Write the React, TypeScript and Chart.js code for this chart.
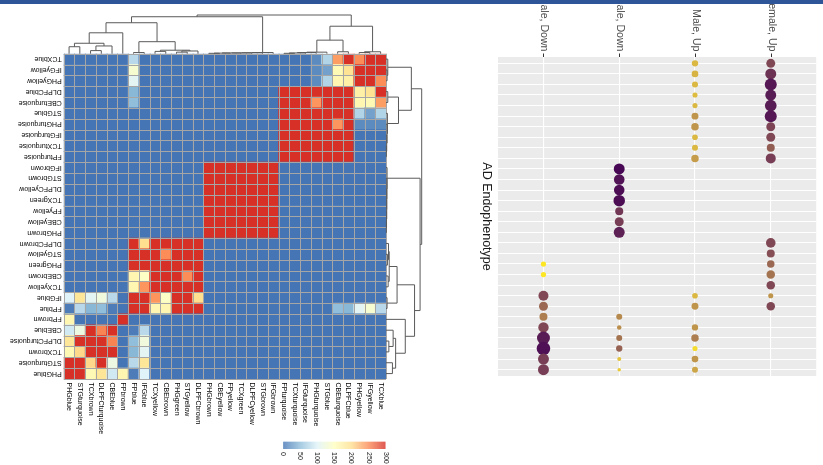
import React, { useEffect, useRef } from "react";
import { Chart, registerables } from "chart.js";

Chart.register(...registerables);

const W = 823;
const H = 465;

// Modules, in column order (left to right) = row order from bottom to top
const colModules = [
  "PHGblue", "STGturquoise", "TCXbrown", "DLPFCturquoise", "CBEblue", "FPbrown",
  "FPblue", "IFGblue", "TCXyellow", "CBEbrown", "PHGgreen", "STGyellow", "DLPFCbrown",
  "PHGbrown", "CBEyellow", "FPyellow", "TCXgreen", "DLPFCyellow", "STGbrown", "IFGbrown",
  "FPturquoise", "TCXturquoise", "IFGturquoise", "PHGturquoise", "STGblue", "CBEturquoise",
  "DLPFCblue", "PHGyellow", "IFGyellow", "TCXblue",
];

// Overlap values, rows as displayed from top (TCXblue) to bottom (PHGblue)
const overlapTopToBottom = [
  [0,0,0,0,0,0,75,0,0,0, 0,0,0,0,0,0,0,0,0,0, 0,0,0,15,70,240,300,250,300,300],
  [0,0,0,0,0,0,135,0,0,0, 0,0,0,0,0,0,0,0,0,0, 0,0,0,15,30,160,195,300,300,300],
  [0,0,0,0,0,0,105,0,0,0, 0,0,0,0,0,0,0,0,0,0, 0,0,0,15,70,165,175,300,300,250],
  [0,0,0,0,0,0,45,0,0,0, 0,0,0,0,0,0,0,0,0,0, 300,300,300,300,300,300,300,175,195,300],
  [0,0,0,0,0,0,50,0,0,0, 0,0,0,0,0,0,0,0,0,0, 300,300,300,245,300,300,300,165,160,240],
  [0,0,0,0,0,0,0,0,0,0, 0,0,0,0,0,0,0,0,0,0, 300,300,300,300,300,300,300,70,30,70],
  [0,0,0,0,0,0,0,0,0,0, 0,0,0,0,0,0,0,0,0,0, 300,300,300,300,300,245,300,15,15,15],
  [0,0,0,0,0,0,0,0,0,0, 0,0,0,0,0,0,0,0,0,0, 300,300,300,300,300,300,300,0,0,0],
  [0,0,0,0,0,0,0,0,0,0, 0,0,0,0,0,0,0,0,0,0, 300,300,300,300,300,300,300,0,0,0],
  [0,0,0,0,0,0,0,0,0,0, 0,0,0,0,0,0,0,0,0,0, 300,300,300,300,300,300,300,0,0,0],
  [0,0,0,0,0,0,0,0,0,0, 0,0,0,300,300,300,300,300,300,300, 0,0,0,0,0,0,0,0,0,0],
  [0,0,0,0,0,0,0,0,0,0, 0,0,0,300,300,300,300,300,300,300, 0,0,0,0,0,0,0,0,0,0],
  [0,0,0,0,0,0,0,0,0,0, 0,0,0,300,300,300,300,300,300,300, 0,0,0,0,0,0,0,0,0,0],
  [0,0,0,0,0,0,0,0,0,0, 0,0,0,300,300,300,300,300,300,300, 0,0,0,0,0,0,0,0,0,0],
  [0,0,0,0,0,0,0,0,0,0, 0,0,0,300,300,300,300,300,300,300, 0,0,0,0,0,0,0,0,0,0],
  [0,0,0,0,0,0,0,0,0,0, 0,0,0,300,300,300,300,300,300,300, 0,0,0,0,0,0,0,0,0,0],
  [0,0,0,0,0,0,0,0,0,0, 0,0,0,300,300,300,300,300,300,300, 0,0,0,0,0,0,0,0,0,0],
  [0,0,0,0,0,0,300,200,300,300, 300,300,300,0,0,0,0,0,0,0, 0,0,0,0,0,0,0,0,0,0],
  [0,0,0,0,0,0,300,300,300,250, 300,300,300,0,0,0,0,0,0,0, 0,0,0,0,0,0,0,0,0,0],
  [0,0,0,0,0,0,300,300,300,300, 300,300,300,0,0,0,0,0,0,0, 0,0,0,0,0,0,0,0,0,0],
  [0,0,0,0,0,0,165,145,300,300, 300,250,300,0,0,0,0,0,0,0, 0,0,0,0,0,0,0,0,0,0],
  [0,0,0,0,0,0,165,245,300,300, 300,300,300,0,0,0,0,0,0,0, 0,0,0,0,0,0,0,0,0,0],
  [100,190,105,125,75,0,300,300,245,145, 300,300,200,0,0,0,0,0,0,0, 0,0,0,0,0,0,0,0,0,0],
  [5,75,45,50,5,0,300,300,165,165, 300,300,300,0,0,0,0,0,0,0, 0,0,0,0,0,50,45,105,135,75],
  [165,0,0,0,0,300,0,0,0,0, 0,0,0,0,0,0,0,0,0,0, 0,0,0,0,0,0,0,0,0,0],
  [90,120,300,255,300,0,5,75,0,0, 0,0,0,0,0,0,0,0,0,0, 0,0,0,0,0,0,0,0,0,0],
  [190,300,300,300,255,0,50,125,0,0, 0,0,0,0,0,0,0,0,0,0, 0,0,0,0,0,0,0,0,0,0],
  [160,205,300,300,300,0,45,105,0,0, 0,0,0,0,0,0,0,0,0,0, 0,0,0,0,0,0,0,0,0,0],
  [300,300,205,300,120,0,75,190,0,0, 0,0,0,0,0,0,0,0,0,0, 0,0,0,0,0,0,0,0,0,0],
  [300,300,160,190,90,165,5,100,0,0, 0,0,0,0,0,0,0,0,0,0, 0,0,0,0,0,0,0,0,0,0],
];

// hclust-style merges: negative = leaf (column index + 1), positive = earlier merge (1-based), height (root = 1)
const dendroMerges = [
  [-1, -2, 0.18], [-3, -4, 0.08], [2, -5, 0.2], [1, 3, 0.27], [4, -6, 0.54],
  [-7, -8, 0.03], [-9, -10, 0.06], [-11, -12, 0.04], [8, -13, 0.07], [7, 9, 0.09],
  [6, 10, 0.31], [5, 11, 0.8],
  [-14, -15, 0.01], [13, -16, 0.015], [14, -17, 0.02], [15, -18, 0.02], [16, -19, 0.025], [17, -20, 0.03],
  [12, 18, 0.955],
  [-21, -22, 0.01], [20, -23, 0.02], [21, -24, 0.03], [22, -25, 0.04],
  [-26, -27, 0.05], [23, 24, 0.35],
  [-28, -29, 0.03], [26, -30, 0.05], [25, 27, 0.71],
  [19, 28, 1.0],
];

const colorbarTicks = [0, 50, 100, 150, 200, 250, 300];
const heatMax = 300;
const heatStops = ["#4575B4", "#91BFDB", "#E0F3F8", "#FFFFBF", "#FEE090", "#FC8D59", "#D73027"];

// Dot plot
const dotCategories = ["Female, Down", "Male, Down", "Male, Up", "Female, Up"];
const dotRowCount = 30;
// [row (0 = top), score (area), shade (0 = purple .. 1 = yellow)]
const femaleDown = [
  [19, 7, 1.0], [20, 7, 1.0], [22, 25, 0.3], [23, 20, 0.45], [24, 16, 0.55],
  [25, 27, 0.3], [26, 42, 0.1], [27, 46, 0.05], [28, 30, 0.25], [29, 30, 0.25],
];
const maleDown = [
  [10, 30, 0.02], [11, 28, 0.06], [12, 28, 0.04], [13, 33, 0.04], [14, 16, 0.22],
  [15, 20, 0.25], [16, 30, 0.12], [24, 9, 0.6], [25, 5, 0.62], [26, 9, 0.5],
  [27, 10, 0.42], [28, 4, 0.85], [29, 3, 0.88],
];
const maleUp = [
  [0, 10, 0.8], [1, 11, 0.78], [2, 9, 0.8], [3, 6.5, 0.82], [4, 6.5, 0.8],
  [5, 12, 0.65], [6, 14, 0.65], [7, 8, 0.8], [8, 9, 0.8], [9, 14, 0.68],
  [22, 8, 0.8], [23, 12, 0.65], [25, 10, 0.65], [26, 14, 0.55], [27, 6.5, 0.95],
  [28, 11, 0.65], [29, 9, 0.72],
];
const femaleUp = [
  [0, 20, 0.3], [1, 30, 0.2], [2, 36, 0.08], [3, 30, 0.1], [4, 34, 0.1],
  [5, 36, 0.08], [6, 20, 0.28], [7, 20, 0.3], [8, 16, 0.4], [9, 25, 0.25],
  [17, 23, 0.3], [18, 16, 0.33], [19, 14, 0.45], [20, 18, 0.5], [21, 18, 0.3],
  [22, 6.5, 0.65], [23, 18, 0.3],
];
const dotSeries = [femaleDown, maleDown, maleUp, femaleUp];
const dotLow = "#440154";
const dotHigh = "#FDE725";

// ---------- colour helpers ----------
function hexToRgb(h: string) {
  const n = parseInt(h.slice(1), 16);
  return [(n >> 16) & 255, (n >> 8) & 255, n & 255];
}
function rgbStr(c: number[]) {
  return `rgb(${c.map((v) => Math.round(Math.max(0, Math.min(255, v)))).join(",")})`;
}
function heatColor(v: number) {
  const t = Math.max(0, Math.min(1, v / heatMax)) * (heatStops.length - 1);
  const k = Math.min(Math.floor(t), heatStops.length - 2);
  const f = t - k;
  const a = hexToRgb(heatStops[k]);
  const b = hexToRgb(heatStops[k + 1]);
  return rgbStr(a.map((x, i) => x + (b[i] - x) * f));
}
function lin(c: number) {
  c /= 255;
  return c <= 0.04045 ? c / 12.92 : Math.pow((c + 0.055) / 1.055, 2.4);
}
function delin(c: number) {
  const v = c <= 0.0031308 ? 12.92 * c : 1.055 * Math.pow(c, 1 / 2.4) - 0.055;
  return v * 255;
}
function rgbToLab(rgb: number[]) {
  const [R, G, B] = rgb.map(lin);
  const X = (0.4124 * R + 0.3576 * G + 0.1805 * B) / 0.95047;
  const Y = 0.2126 * R + 0.7152 * G + 0.0722 * B;
  const Z = (0.0193 * R + 0.1192 * G + 0.9505 * B) / 1.08883;
  const f = (t: number) => (t > 0.008856 ? Math.cbrt(t) : 7.787 * t + 16 / 116);
  return [116 * f(Y) - 16, 500 * (f(X) - f(Y)), 200 * (f(Y) - f(Z))];
}
function labToRgb(lab: number[]) {
  const [L, a, b] = lab;
  const fy = (L + 16) / 116;
  const fx = fy + a / 500;
  const fz = fy - b / 200;
  const inv = (t: number) => (t * t * t > 0.008856 ? t * t * t : (t - 16 / 116) / 7.787);
  const X = inv(fx) * 0.95047;
  const Y = inv(fy);
  const Z = inv(fz) * 1.08883;
  const R = 3.2406 * X - 1.5372 * Y - 0.4986 * Z;
  const G = -0.9689 * X + 1.8758 * Y + 0.0415 * Z;
  const B = 0.0557 * X - 0.204 * Y + 1.057 * Z;
  return [R, G, B].map((c) => delin(Math.max(0, Math.min(1, c))));
}
const labLow = rgbToLab(hexToRgb(dotLow));
const labHigh = rgbToLab(hexToRgb(dotHigh));
function dotColor(t: number) {
  return rgbStr(labToRgb(labLow.map((v, i) => v + (labHigh[i] - v) * t)));
}

// ---------- dendrogram ----------
function dendroSegments(leafPos: (j: number) => number) {
  const pos: number[] = [];
  const hgt: number[] = [];
  const segs: number[][] = [];
  const get = (id: number) => (id < 0 ? [leafPos(-id - 1), 0] : [pos[id - 1], hgt[id - 1]]);
  dendroMerges.forEach(([a, b, h], k) => {
    const [pa, ha] = get(a);
    const [pb, hb] = get(b);
    pos[k] = (pa + pb) / 2;
    hgt[k] = h;
    segs.push([pa, ha, pa, h], [pa, h, pb, h], [pb, h, pb, hb]);
  });
  return segs;
}

const FONT = '"Liberation Sans", Arial, Helvetica, sans-serif';

const heatDecor = {
  id: "heatDecor",
  afterDatasetsDraw(chart: any) {
    const ctx = chart.ctx;
    const xs = chart.scales.x;
    const ys = chart.scales.y;
    const a = chart.chartArea;
    ctx.save();
    ctx.strokeStyle = "#A6A6A6";
    ctx.lineWidth = 1;
    ctx.beginPath();
    for (let j = 0; j <= colModules.length; j++) {
      const x = Math.round(xs.getPixelForValue(j - 0.5)) + 0.5;
      ctx.moveTo(x, a.top);
      ctx.lineTo(x, a.bottom);
    }
    for (let i = 0; i <= colModules.length; i++) {
      const y = Math.round(ys.getPixelForValue(i)) + 0.5;
      ctx.moveTo(a.left, y);
      ctx.lineTo(a.right, y);
    }
    ctx.stroke();
    ctx.restore();
  },
  afterDraw(chart: any) {
    const ctx = chart.ctx;
    const xs = chart.scales.x;
    const ys = chart.scales.y;
    const a = chart.chartArea;
    ctx.save();
    ctx.font = `7px ${FONT}`;
    ctx.fillStyle = "#000";
    // row labels (upside down)
    colModules.forEach((name, i) => {
      const y = ys.getPixelForValue(i + 0.5);
      ctx.save();
      ctx.translate(a.left - 2, y);
      ctx.rotate(Math.PI);
      ctx.textAlign = "left";
      ctx.textBaseline = "middle";
      ctx.fillText(name, 0, 0);
      ctx.restore();
    });
    // column labels
    colModules.forEach((name, j) => {
      const x = xs.getPixelForValue(j);
      ctx.save();
      ctx.translate(x, a.bottom + 3.5);
      ctx.rotate(Math.PI / 2);
      ctx.textAlign = "left";
      ctx.textBaseline = "middle";
      ctx.fillText(name, 0, 0);
      ctx.restore();
    });
    // dendrograms
    ctx.strokeStyle = "#5a5a5a";
    ctx.lineWidth = 1;
    const topH = 38.7;
    const rightH = 35.7;
    ctx.beginPath();
    dendroSegments((j) => xs.getPixelForValue(j)).forEach(([x1, h1, x2, h2]) => {
      ctx.moveTo(x1, a.top - h1 * topH);
      ctx.lineTo(x2, a.top - h2 * topH);
    });
    dendroSegments((i) => ys.getPixelForValue(i + 0.5)).forEach(([y1, h1, y2, h2]) => {
      ctx.moveTo(a.right + h1 * rightH, y1);
      ctx.lineTo(a.right + h2 * rightH, y2);
    });
    ctx.stroke();
    // colour bar
    const cbL = 283.3;
    const cbR = 385.5;
    const cbT = 441.7;
    const cbB = 449;
    const vx = (v: number) => cbL + ((cbR - cbL) * v) / heatMax;
    for (let px = cbL; px < cbR; px += 1) {
      const v = ((px + 0.5 - cbL) / (cbR - cbL)) * heatMax;
      ctx.fillStyle = heatColor(v);
      ctx.fillRect(px, cbT, Math.min(1, cbR - px), cbB - cbT);
    }
    ctx.fillStyle = "#222";
    ctx.font = `7px ${FONT}`;
    colorbarTicks.forEach((t) => {
      ctx.save();
      ctx.translate(vx(t), cbB + 3);
      ctx.rotate(Math.PI / 2);
      ctx.textAlign = "left";
      ctx.textBaseline = "middle";
      ctx.fillText(String(t), 0, 0);
      ctx.restore();
    });
    ctx.restore();
  },
};

const dotDecor = {
  id: "dotDecor",
  beforeDraw(chart: any) {
    const { ctx, chartArea: a } = chart;
    ctx.save();
    ctx.fillStyle = "#EBEBEB";
    ctx.fillRect(a.left, a.top, a.right - a.left, a.bottom - a.top);
    ctx.restore();
  },
  afterDraw(chart: any) {
    const { ctx, chartArea: a } = chart;
    const xs = chart.scales.x;
    ctx.save();
    dotCategories.forEach((name, c) => {
      const px = Math.round(xs.getPixelForValue(c)) + 0.5;
      ctx.strokeStyle = "#333";
      ctx.lineWidth = 1;
      ctx.beginPath();
      ctx.moveTo(px, a.top);
      ctx.lineTo(px, a.top - 3.5);
      ctx.stroke();
      ctx.save();
      ctx.translate(px, a.top - 5.5);
      ctx.rotate(Math.PI / 2);
      ctx.textAlign = "right";
      ctx.textBaseline = "middle";
      ctx.fillStyle = "#4D4D4D";
      ctx.font = `10.6px ${FONT}`;
      ctx.fillText(name, 0, 0);
      ctx.restore();
    });
    ctx.translate(a.left - 12, (a.top + a.bottom) / 2);
    ctx.rotate(Math.PI / 2);
    ctx.textAlign = "center";
    ctx.textBaseline = "middle";
    ctx.fillStyle = "#1a1a1a";
    ctx.font = `12.5px ${FONT}`;
    ctx.fillText("AD Endophenotype", 0, 0);
    ctx.restore();
  },
};

function heatConfig(): any {
  const rowsBottomUp = overlapTopToBottom.slice().reverse();
  return {
    type: "bar",
    data: {
      labels: colModules,
      datasets: rowsBottomUp.map((row, i) => ({
        label: colModules[i],
        data: row.map(() => 1),
        backgroundColor: row.map((v) => heatColor(v)),
        borderWidth: 0,
        categoryPercentage: 1,
        barPercentage: 1,
      })),
    },
    options: {
      animation: false,
      responsive: false,
      maintainAspectRatio: false,
      events: [],
      layout: { padding: { left: 63.7, top: 53.7, right: W - 386, bottom: H - 379 } },
      plugins: { legend: { display: false }, tooltip: { enabled: false } },
      scales: {
        x: {
          stacked: true,
          offset: true,
          grid: { display: false },
          border: { display: false },
          ticks: { display: false },
          afterFit: (s: any) => { s.height = 0; },
        },
        y: {
          stacked: true,
          min: 0,
          max: 30,
          grid: { display: false },
          border: { display: false },
          ticks: { display: false },
          afterFit: (s: any) => { s.width = 0; },
        },
      },
    },
    plugins: [heatDecor],
  };
}

function dotConfig(): any {
  return {
    type: "scatter",
    data: {
      datasets: dotSeries.map((s, c) => ({
        label: dotCategories[c],
        data: s.map(([row]) => ({ x: c, y: row })),
        pointRadius: s.map(([, score]) => Math.sqrt(score)),
        backgroundColor: s.map(([, , shade]) => dotColor(shade)),
        borderWidth: 0,
        pointBorderWidth: 0,
      })),
    },
    options: {
      animation: false,
      responsive: false,
      maintainAspectRatio: false,
      events: [],
      layout: { padding: { left: 498, top: 57, right: W - 817, bottom: H - 376 } },
      plugins: { legend: { display: false }, tooltip: { enabled: false } },
      scales: {
        x: {
          type: "linear",
          position: "top",
          min: -0.6,
          max: dotCategories.length - 1 + 0.6,
          grid: { color: "#FFFFFF", lineWidth: 1.1, drawTicks: false },
          border: { display: false },
          ticks: { display: false },
          afterBuildTicks: (s: any) => { s.ticks = dotCategories.map((_, k) => ({ value: k })); },
          afterFit: (s: any) => { s.height = 0; },
        },
        y: {
          type: "linear",
          reverse: true,
          min: -0.6,
          max: dotRowCount - 1 + 0.6,
          grid: { color: "#FFFFFF", lineWidth: 1.1, drawTicks: false },
          border: { display: false },
          ticks: { display: false },
          afterBuildTicks: (s: any) => {
            s.ticks = Array.from({ length: dotRowCount }, (_, k) => ({ value: k }));
          },
          afterFit: (s: any) => { s.width = 0; },
        },
      },
    },
    plugins: [dotDecor],
  };
}

export default function App() {
  const heatRef = useRef<HTMLCanvasElement>(null);
  const dotRef = useRef<HTMLCanvasElement>(null);
  useEffect(() => {
    const c1 = new Chart(heatRef.current as HTMLCanvasElement, heatConfig());
    const c2 = new Chart(dotRef.current as HTMLCanvasElement, dotConfig());
    return () => {
      c1.destroy();
      c2.destroy();
    };
  }, []);
  return (
    <div style={{ position: "fixed", left: 0, top: 0, width: W, height: H, background: "#fff", overflow: "hidden" }}>
      <canvas ref={heatRef} width={W} height={H} style={{ position: "absolute", left: 0, top: 0 }} />
      <canvas ref={dotRef} width={W} height={H} style={{ position: "absolute", left: 0, top: 0 }} />
      <div style={{ position: "absolute", left: 0, top: 0, width: W, height: 4, background: "#2e5597" }} />
    </div>
  );
}
